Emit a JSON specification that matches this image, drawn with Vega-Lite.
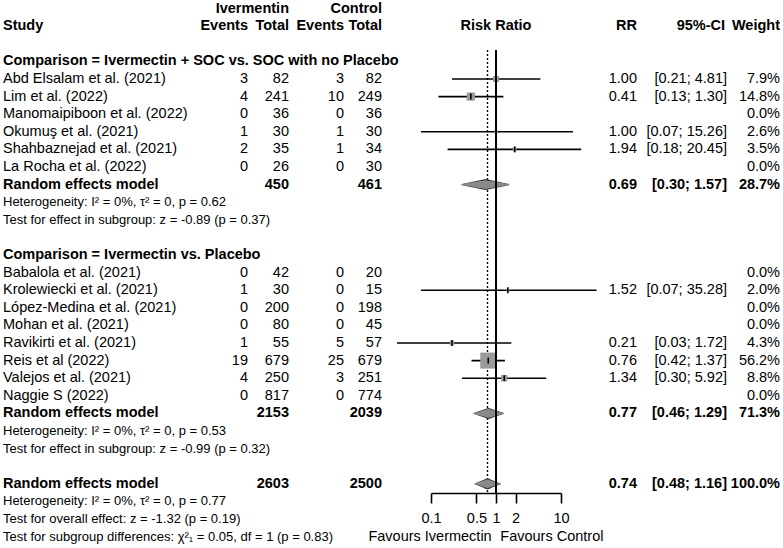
{
  "$schema": "https://vega.github.io/schema/vega-lite/v6.json",
  "padding": 0,
  "background": "white",
  "spacing": 0,
  "bounds": "flush",
  "config": {
    "view": {"stroke": null},
    "font": "Liberation Sans",
    "text": {"font": "Liberation Sans", "fontSize": 14.5, "color": "black", "baseline": "middle"}
  },
  "datasets": {
    "headers": [
      {"col": "study", "line": -3, "text": "Study"},
      {"col": "evI", "line": -3, "text": "Events"},
      {"col": "totI", "line": -4, "text": "Ivermentin"},
      {"col": "totI", "line": -3, "text": "Total"},
      {"col": "evC", "line": -3, "text": "Events"},
      {"col": "totC", "line": -4, "text": "Control"},
      {"col": "totC", "line": -3, "text": "Total"},
      {"col": "forest", "line": -3, "text": "Risk Ratio"},
      {"col": "rr", "line": -3, "text": "RR"},
      {"col": "ci", "line": -3, "text": "95%-CI"},
      {"col": "w", "line": -3, "text": "Weight"}
    ],
    "headings": [
      {"line": -1, "text": "Comparison = Ivermectin + SOC vs. SOC with no Placebo"},
      {"line": 10, "text": "Comparison = Ivermectin vs. Placebo"}
    ],
    "studies": [
      {"line": 0, "study": "Abd Elsalam et al. (2021)", "evI": 3, "totI": 82, "evC": 3, "totC": 82, "rr": 1.00, "lo": 0.21, "hi": 4.81, "ci": "[0.21;  4.81]", "w": 0.079},
      {"line": 1, "study": "Lim et al. (2022)", "evI": 4, "totI": 241, "evC": 10, "totC": 249, "rr": 0.41, "lo": 0.13, "hi": 1.30, "ci": "[0.13;  1.30]", "w": 0.148},
      {"line": 2, "study": "Manomaipiboon et al. (2022)", "evI": 0, "totI": 36, "evC": 0, "totC": 36, "rr": null, "lo": null, "hi": null, "ci": "", "w": 0},
      {"line": 3, "study": "Okumuş et al. (2021)", "evI": 1, "totI": 30, "evC": 1, "totC": 30, "rr": 1.00, "lo": 0.07, "hi": 15.26, "ci": "[0.07; 15.26]", "w": 0.026},
      {"line": 4, "study": "Shahbaznejad et al. (2021)", "evI": 2, "totI": 35, "evC": 1, "totC": 34, "rr": 1.94, "lo": 0.18, "hi": 20.45, "ci": "[0.18; 20.45]", "w": 0.035},
      {"line": 5, "study": "La Rocha et al. (2022)", "evI": 0, "totI": 26, "evC": 0, "totC": 30, "rr": null, "lo": null, "hi": null, "ci": "", "w": 0},
      {"line": 11, "study": "Babalola et al. (2021)", "evI": 0, "totI": 42, "evC": 0, "totC": 20, "rr": null, "lo": null, "hi": null, "ci": "", "w": 0},
      {"line": 12, "study": "Krolewiecki et al. (2021)", "evI": 1, "totI": 30, "evC": 0, "totC": 15, "rr": 1.52, "lo": 0.07, "hi": 35.28, "ci": "[0.07; 35.28]", "w": 0.020},
      {"line": 13, "study": "López-Medina et al. (2021)", "evI": 0, "totI": 200, "evC": 0, "totC": 198, "rr": null, "lo": null, "hi": null, "ci": "", "w": 0},
      {"line": 14, "study": "Mohan et al. (2021)", "evI": 0, "totI": 80, "evC": 0, "totC": 45, "rr": null, "lo": null, "hi": null, "ci": "", "w": 0},
      {"line": 15, "study": "Ravikirti et al. (2021)", "evI": 1, "totI": 55, "evC": 5, "totC": 57, "rr": 0.21, "lo": 0.03, "hi": 1.72, "ci": "[0.03;  1.72]", "w": 0.043},
      {"line": 16, "study": "Reis et al (2022)", "evI": 19, "totI": 679, "evC": 25, "totC": 679, "rr": 0.76, "lo": 0.42, "hi": 1.37, "ci": "[0.42;  1.37]", "w": 0.562},
      {"line": 17, "study": "Valejos et al. (2021)", "evI": 4, "totI": 250, "evC": 3, "totC": 251, "rr": 1.34, "lo": 0.30, "hi": 5.92, "ci": "[0.30;  5.92]", "w": 0.088},
      {"line": 18, "study": "Naggie S (2022)", "evI": 0, "totI": 817, "evC": 0, "totC": 774, "rr": null, "lo": null, "hi": null, "ci": "", "w": 0}
    ],
    "pooled": [
      {"line": 6, "model": "subgroup", "study": "Random effects model", "totI": 450, "totC": 461, "rr": 0.69, "lo": 0.30, "hi": 1.57, "ci": "[0.30;  1.57]", "w": 0.287},
      {"line": 19, "model": "subgroup", "study": "Random effects model", "totI": 2153, "totC": 2039, "rr": 0.77, "lo": 0.46, "hi": 1.29, "ci": "[0.46;  1.29]", "w": 0.713},
      {"line": 23, "model": "overall", "study": "Random effects model", "totI": 2603, "totC": 2500, "rr": 0.74, "lo": 0.48, "hi": 1.16, "ci": "[0.48;  1.16]", "w": 1.0}
    ],
    "notes": [
      {"line": 7, "text": "Heterogeneity: I² = 0%, τ² = 0, p = 0.62"},
      {"line": 8, "text": "Test for effect in subgroup: z = -0.89 (p = 0.37)"},
      {"line": 20, "text": "Heterogeneity: I² = 0%, τ² = 0, p = 0.53"},
      {"line": 21, "text": "Test for effect in subgroup: z = -0.99 (p = 0.32)"},
      {"line": 24, "text": "Heterogeneity: I² = 0%, τ² = 0, p = 0.77"},
      {"line": 25, "text": "Test for overall effect: z = -1.32 (p = 0.19)"},
      {"line": 26, "text": "Test for subgroup differences: χ²₁ = 0.05, df = 1 (p = 0.83)"}
    ],
    "favours": [
      {"line": 26, "side": "left", "text": "Favours Ivermectin"},
      {"line": 26, "side": "right", "text": "Favours Control"}
    ]
  },
  "hconcat": [
    {
      "width": 205, "height": 548,
      "layer": [
        {"data": {"name": "headers"}, "transform": [{"filter": "datum.col == 'study'"}],
         "mark": {"type": "text", "align": "left", "x": 0, "dx": 3, "fontWeight": "bold"},
         "encoding": {"y": {"field": "line", "type": "quantitative", "scale": {"domain": [-4.375, 26.761], "reverse": true, "nice": false, "zero": false}, "axis": null}, "text": {"field": "text"}}},
        {"data": {"name": "headings"},
         "mark": {"type": "text", "align": "left", "x": 0, "dx": 3, "fontWeight": "bold"},
         "encoding": {"y": {"field": "line", "type": "quantitative"}, "text": {"field": "text"}}},
        {"data": {"name": "studies"},
         "mark": {"type": "text", "align": "left", "x": 0, "dx": 3},
         "encoding": {"y": {"field": "line", "type": "quantitative"}, "text": {"field": "study"}}},
        {"data": {"name": "pooled"},
         "mark": {"type": "text", "align": "left", "x": 0, "dx": 3, "fontWeight": "bold"},
         "encoding": {"y": {"field": "line", "type": "quantitative"}, "text": {"field": "study"}}},
        {"data": {"name": "notes"},
         "mark": {"type": "text", "align": "left", "x": 0, "dx": 3, "fontSize": 13},
         "encoding": {"y": {"field": "line", "type": "quantitative"}, "text": {"field": "text"}}}
      ]
    },
    {
      "width": 43, "height": 548,
      "layer": [
        {"data": {"name": "headers"}, "transform": [{"filter": "datum.col == 'evI'"}],
         "mark": {"type": "text", "align": "right", "x": "width", "fontWeight": "bold"},
         "encoding": {"y": {"field": "line", "type": "quantitative", "scale": {"domain": [-4.375, 26.761], "reverse": true, "nice": false, "zero": false}, "axis": null}, "text": {"field": "text"}}},
        {"data": {"name": "studies"},
         "mark": {"type": "text", "align": "right", "x": "width"},
         "encoding": {"y": {"field": "line", "type": "quantitative"}, "text": {"field": "evI", "type": "quantitative"}}}
      ]
    },
    {
      "width": 41, "height": 548,
      "layer": [
        {"data": {"name": "headers"}, "transform": [{"filter": "datum.col == 'totI'"}],
         "mark": {"type": "text", "align": "right", "x": "width", "fontWeight": "bold"},
         "encoding": {"y": {"field": "line", "type": "quantitative", "scale": {"domain": [-4.375, 26.761], "reverse": true, "nice": false, "zero": false}, "axis": null}, "text": {"field": "text"}}},
        {"data": {"name": "studies"},
         "mark": {"type": "text", "align": "right", "x": "width"},
         "encoding": {"y": {"field": "line", "type": "quantitative"}, "text": {"field": "totI", "type": "quantitative"}}},
        {"data": {"name": "pooled"},
         "mark": {"type": "text", "align": "right", "x": "width", "fontWeight": "bold"},
         "encoding": {"y": {"field": "line", "type": "quantitative"}, "text": {"field": "totI", "type": "quantitative"}}}
      ]
    },
    {
      "width": 55, "height": 548,
      "layer": [
        {"data": {"name": "headers"}, "transform": [{"filter": "datum.col == 'evC'"}],
         "mark": {"type": "text", "align": "right", "x": "width", "fontWeight": "bold"},
         "encoding": {"y": {"field": "line", "type": "quantitative", "scale": {"domain": [-4.375, 26.761], "reverse": true, "nice": false, "zero": false}, "axis": null}, "text": {"field": "text"}}},
        {"data": {"name": "studies"},
         "mark": {"type": "text", "align": "right", "x": "width"},
         "encoding": {"y": {"field": "line", "type": "quantitative"}, "text": {"field": "evC", "type": "quantitative"}}}
      ]
    },
    {
      "width": 87, "height": 548,
      "layer": [
        {"data": {"name": "headers"}, "transform": [{"filter": "datum.col == 'totC'"}],
         "mark": {"type": "text", "align": "right", "x": "width", "dx": -49, "fontWeight": "bold"},
         "encoding": {"y": {"field": "line", "type": "quantitative", "scale": {"domain": [-4.375, 26.761], "reverse": true, "nice": false, "zero": false}, "axis": null}, "text": {"field": "text"}}},
        {"data": {"name": "studies"},
         "mark": {"type": "text", "align": "right", "x": "width", "dx": -49},
         "encoding": {"y": {"field": "line", "type": "quantitative"}, "text": {"field": "totC", "type": "quantitative"}}},
        {"data": {"name": "pooled"},
         "mark": {"type": "text", "align": "right", "x": "width", "dx": -49, "fontWeight": "bold"},
         "encoding": {"y": {"field": "line", "type": "quantitative"}, "text": {"field": "totC", "type": "quantitative"}}}
      ]
    },
    {
      "spacing": 0,
      "bounds": "flush",
      "vconcat": [
        {
          "width": 130, "height": 48,
          "data": {"name": "headers"},
          "transform": [{"filter": "datum.col == 'forest'"}],
          "mark": {"type": "text", "align": "center", "x": "width", "dx": -65, "fontWeight": "bold"},
          "encoding": {"y": {"field": "line", "type": "quantitative", "scale": {"domain": [-4.375, -1.648], "reverse": true, "nice": false, "zero": false}, "axis": null}, "text": {"field": "text"}}
        },
        {
          "width": 130, "height": 443,
          "layer": [
            {"data": {"name": "pooled"}, "transform": [{"filter": "datum.model == 'overall'"}],
             "mark": {"type": "rule", "color": "black", "strokeWidth": 1.4, "strokeDash": [2, 2]},
             "encoding": {"x": {"field": "rr", "type": "quantitative", "title": null,
                                "scale": {"type": "log", "domain": [0.1, 10], "nice": false},
                                "axis": {"orient": "bottom", "values": [0.1, 0.5, 1, 2, 10], "format": "~g", "domain": true, "domainColor": "black", "domainWidth": 1.6, "grid": false, "ticks": true, "tickSize": 10, "tickWidth": 1.6, "tickColor": "black", "labelFont": "Liberation Sans", "labelFontSize": 14.5, "labelColor": "black", "labelPadding": 8, "labelFlush": false, "labelOverlap": false}}}},
            {"data": {"name": "studies"}, "transform": [{"filter": "isValid(datum.rr)"}],
             "mark": {"type": "rule", "color": "black", "strokeWidth": 1.6},
             "encoding": {
               "x": {"field": "lo", "type": "quantitative", "title": null},
               "x2": {"field": "hi"},
               "y": {"field": "line", "type": "quantitative", "scale": {"domain": [-1.648, 23.523], "reverse": true, "nice": false, "zero": false}, "axis": null}
             }},
            {"data": {"name": "studies"}, "transform": [{"filter": "isValid(datum.rr)"}],
             "mark": {"type": "point", "shape": "square", "filled": true, "color": "#9a9a9a", "opacity": 1},
             "encoding": {"x": {"field": "rr", "type": "quantitative"}, "y": {"field": "line", "type": "quantitative"},
                          "size": {"field": "w", "type": "quantitative", "scale": {"domain": [0, 0.562], "range": [0, 256]}, "legend": null}}},
            {"data": {"name": "studies"}, "transform": [{"filter": "isValid(datum.rr)"}],
             "mark": {"type": "tick", "orient": "vertical", "color": "black", "size": 6, "thickness": 1.6, "opacity": 1},
             "encoding": {"x": {"field": "rr", "type": "quantitative"}, "y": {"field": "line", "type": "quantitative"}}},
            {"data": {"name": "pooled"}, "transform": [{"fold": ["lo", "rr", "hi"], "as": ["key", "value"]}],
             "mark": {"type": "trail", "color": "#3a3a3a", "opacity": 1},
             "encoding": {"x": {"field": "value", "type": "quantitative"}, "y": {"field": "line", "type": "quantitative"},
                          "size": {"condition": {"test": "datum.key == 'rr'", "value": 11}, "value": 1.2},
                          "detail": {"field": "line", "type": "nominal"}}},
            {"data": {"name": "pooled"}, "transform": [{"fold": ["lo", "rr", "hi"], "as": ["key", "value"]}],
             "mark": {"type": "trail", "color": "#8a8a8a", "opacity": 1},
             "encoding": {"x": {"field": "value", "type": "quantitative"}, "y": {"field": "line", "type": "quantitative"},
                          "size": {"condition": {"test": "datum.key == 'rr'", "value": 8.6}, "value": 0},
                          "detail": {"field": "line", "type": "nominal"}}},
            {"data": {"name": "pooled"}, "transform": [{"filter": "datum.model == 'overall'"}],
             "mark": {"type": "rule", "color": "black", "strokeWidth": 2},
             "encoding": {"x": {"datum": 1, "type": "quantitative"}}},
            {"data": {"name": "favours"}, "transform": [{"filter": "datum.side == 'left'"}],
             "mark": {"type": "text", "align": "right", "x": "width", "dx": -69.3},
             "encoding": {"y": {"field": "line", "type": "quantitative"}, "text": {"field": "text"}}},
            {"data": {"name": "favours"}, "transform": [{"filter": "datum.side == 'right'"}],
             "mark": {"type": "text", "align": "left", "x": "width", "dx": -60.7},
             "encoding": {"y": {"field": "line", "type": "quantitative"}, "text": {"field": "text"}}}
          ]
        }
      ]
    },
    {
      "width": 206, "height": 548,
      "layer": [
        {"data": {"name": "headers"}, "transform": [{"filter": "datum.col == 'rr'"}],
         "mark": {"type": "text", "align": "right", "x": "width", "fontWeight": "bold"},
         "encoding": {"y": {"field": "line", "type": "quantitative", "scale": {"domain": [-4.375, 26.761], "reverse": true, "nice": false, "zero": false}, "axis": null}, "text": {"field": "text"}}},
        {"data": {"name": "studies"}, "transform": [{"filter": "isValid(datum.rr)"}],
         "mark": {"type": "text", "align": "right", "x": "width"},
         "encoding": {"y": {"field": "line", "type": "quantitative"}, "text": {"field": "rr", "type": "quantitative", "format": ".2f"}}},
        {"data": {"name": "pooled"},
         "mark": {"type": "text", "align": "right", "x": "width", "fontWeight": "bold"},
         "encoding": {"y": {"field": "line", "type": "quantitative"}, "text": {"field": "rr", "type": "quantitative", "format": ".2f"}}}
      ]
    },
    {
      "width": 90, "height": 548,
      "layer": [
        {"data": {"name": "headers"}, "transform": [{"filter": "datum.col == 'ci'"}],
         "mark": {"type": "text", "align": "right", "x": "width", "dx": -2, "fontWeight": "bold"},
         "encoding": {"y": {"field": "line", "type": "quantitative", "scale": {"domain": [-4.375, 26.761], "reverse": true, "nice": false, "zero": false}, "axis": null}, "text": {"field": "text"}}},
        {"data": {"name": "studies"}, "transform": [{"filter": "isValid(datum.rr)"}],
         "mark": {"type": "text", "align": "right", "x": "width"},
         "encoding": {"y": {"field": "line", "type": "quantitative"}, "text": {"field": "ci"}}},
        {"data": {"name": "pooled"},
         "mark": {"type": "text", "align": "right", "x": "width", "fontWeight": "bold"},
         "encoding": {"y": {"field": "line", "type": "quantitative"}, "text": {"field": "ci"}}}
      ]
    },
    {
      "width": 53, "height": 548,
      "layer": [
        {"data": {"name": "headers"}, "transform": [{"filter": "datum.col == 'w'"}],
         "mark": {"type": "text", "align": "right", "x": "width", "fontWeight": "bold"},
         "encoding": {"y": {"field": "line", "type": "quantitative", "scale": {"domain": [-4.375, 26.761], "reverse": true, "nice": false, "zero": false}, "axis": null}, "text": {"field": "text"}}},
        {"data": {"name": "studies"},
         "mark": {"type": "text", "align": "right", "x": "width"},
         "encoding": {"y": {"field": "line", "type": "quantitative"}, "text": {"field": "w", "type": "quantitative", "format": ".1%"}}},
        {"data": {"name": "pooled"},
         "mark": {"type": "text", "align": "right", "x": "width", "fontWeight": "bold"},
         "encoding": {"y": {"field": "line", "type": "quantitative"}, "text": {"field": "w", "type": "quantitative", "format": ".1%"}}}
      ]
    }
  ]
}
